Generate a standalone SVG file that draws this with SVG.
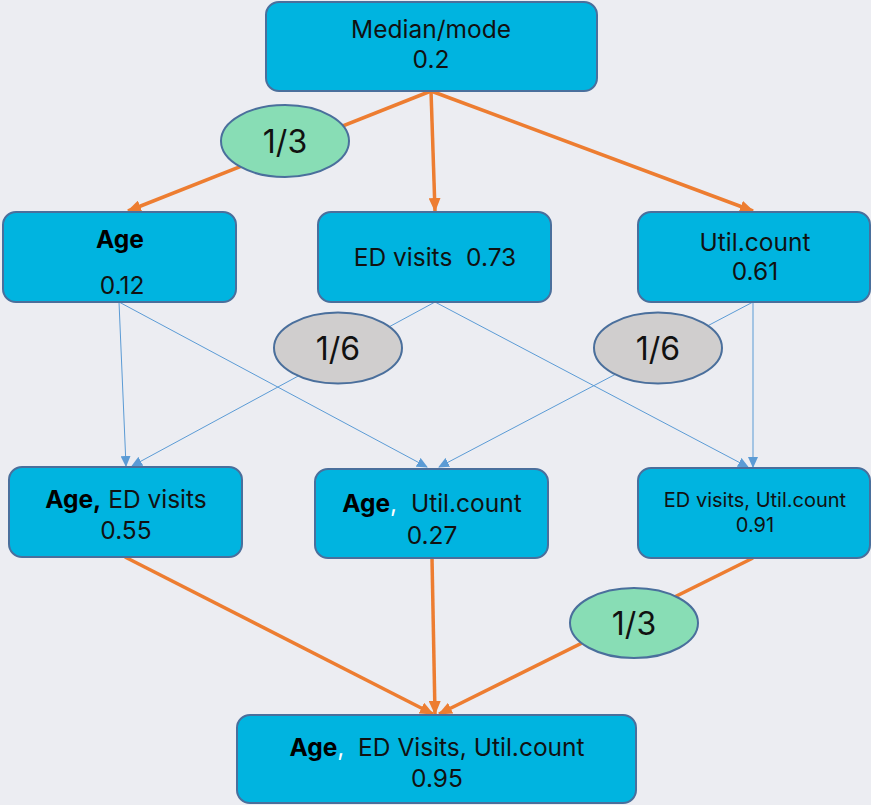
<svg xmlns="http://www.w3.org/2000/svg" width="871" height="805" viewBox="0 0 871 805">
  <style>
    .node { fill: #00B4E0; stroke: #4A6F9C; stroke-width: 2; }
    .t { font-family: Inter, "Liberation Sans", sans-serif; font-size: 24.5px; fill: #111; text-anchor: middle; }
    .b { font-weight: bold; fill: #000; }
    .w { fill: #fff; }
    .frac { font-family: Inter, "Liberation Sans", sans-serif; font-size: 32px; fill: #111; text-anchor: middle; }
    .main { stroke: #ED7D31; stroke-width: 3.5; fill: none; }
    .thin { stroke: #5B9BD5; stroke-width: 1; fill: none; }
    .green { fill: #88DDB5; stroke: #4A6F9C; stroke-width: 2; }
    .grey { fill: #D0CECE; stroke: #4A6F9C; stroke-width: 2; }
  </style>
  <defs>
    <marker id="arrO" markerUnits="userSpaceOnUse" markerWidth="14" markerHeight="12" refX="13" refY="6" orient="auto">
      <path d="M0,0 L14,6 L0,12 Z" fill="#ED7D31"/>
    </marker>
    <marker id="arrB" markerUnits="userSpaceOnUse" markerWidth="11" markerHeight="10" refX="10" refY="5" orient="auto">
      <path d="M0,0 L11,5 L0,10 Z" fill="#5B9BD5"/>
    </marker>
  </defs>

  <rect x="0" y="0" width="871" height="805" fill="#ECEDF2"/>

  <!-- connectors -->
  <g id="connectors">
    <line class="main" x1="431" y1="91" x2="128" y2="211" marker-end="url(#arrO)"/>
    <line class="main" x1="431" y1="91" x2="435" y2="211" marker-end="url(#arrO)"/>
    <line class="main" x1="431" y1="91" x2="753" y2="211" marker-end="url(#arrO)"/>

    <line class="thin" x1="119" y1="302" x2="126" y2="466" marker-end="url(#arrB)"/>
    <line class="thin" x1="119" y1="302" x2="427" y2="467" marker-end="url(#arrB)"/>
    <line class="thin" x1="435" y1="302" x2="132" y2="466" marker-end="url(#arrB)"/>
    <line class="thin" x1="435" y1="302" x2="748" y2="467" marker-end="url(#arrB)"/>
    <line class="thin" x1="753" y1="302" x2="753" y2="467" marker-end="url(#arrB)"/>
    <line class="thin" x1="753" y1="302" x2="439" y2="467" marker-end="url(#arrB)"/>

    <line class="main" x1="125" y1="557" x2="433" y2="714" marker-end="url(#arrO)"/>
    <line class="main" x1="432" y1="558" x2="435" y2="714" marker-end="url(#arrO)"/>
    <line class="main" x1="753" y1="558" x2="439" y2="714" marker-end="url(#arrO)"/>
  </g>

  <!-- weight labels -->
  <g id="w-top">
    <ellipse class="green" cx="285" cy="141" rx="64" ry="36"/>
    <text class="frac" x="285" y="153">1/3</text>
  </g>
  <g id="w-left">
    <ellipse class="grey" cx="338" cy="348" rx="64" ry="35.5"/>
    <text class="frac" x="338" y="360">1/6</text>
  </g>
  <g id="w-right">
    <ellipse class="grey" cx="658" cy="348" rx="64" ry="35.5"/>
    <text class="frac" x="658" y="360">1/6</text>
  </g>
  <g id="w-bottom">
    <ellipse class="green" cx="634" cy="623" rx="64" ry="35"/>
    <text class="frac" x="634" y="635">1/3</text>
  </g>

  <!-- nodes -->
  <g id="median-mode">
    <rect class="node" x="266" y="2" width="331" height="89" rx="13"/>
    <text class="t" x="431" y="38">Median/mode</text>
    <text class="t" x="431" y="68">0.2</text>
  </g>
  <g id="age">
    <rect class="node" x="3" y="212" width="233" height="90" rx="13"/>
    <text class="t b" x="120" y="248">Age</text>
    <text class="t" x="122" y="294">0.12</text>
  </g>
  <g id="ed-visits">
    <rect class="node" x="318" y="212" width="233" height="90" rx="13"/>
    <text class="t" x="435" y="266" xml:space="preserve">ED visits  0.73</text>
  </g>
  <g id="util-count">
    <rect class="node" x="638" y="212" width="232" height="90" rx="13"/>
    <text class="t" x="755" y="251">Util.count</text>
    <text class="t" x="755" y="280">0.61</text>
  </g>
  <g id="age-ed">
    <rect class="node" x="9" y="467" width="233" height="90" rx="13"/>
    <text class="t" x="126" y="508"><tspan class="b">Age,</tspan> ED visits</text>
    <text class="t" x="126" y="539">0.55</text>
  </g>
  <g id="age-util">
    <rect class="node" x="315" y="469" width="233" height="89" rx="13"/>
    <text class="t" x="432" y="512" xml:space="preserve"><tspan class="b">Age</tspan><tspan class="w">,</tspan>  Util.count</text>
    <text class="t" x="432" y="544">0.27</text>
  </g>
  <g id="ed-util">
    <rect class="node" x="638" y="468" width="232" height="90" rx="13"/>
    <text class="t" x="755" y="507" style="font-size:20px">ED visits, Util.count</text>
    <text class="t" x="755" y="532" style="font-size:20px">0.91</text>
  </g>
  <g id="all">
    <rect class="node" x="237" y="715" width="399" height="88" rx="13"/>
    <text class="t" x="437" y="756" xml:space="preserve"><tspan class="b">Age</tspan><tspan class="w">,</tspan>  ED Visits, Util.count</text>
    <text class="t" x="437" y="787">0.95</text>
  </g>
</svg>
